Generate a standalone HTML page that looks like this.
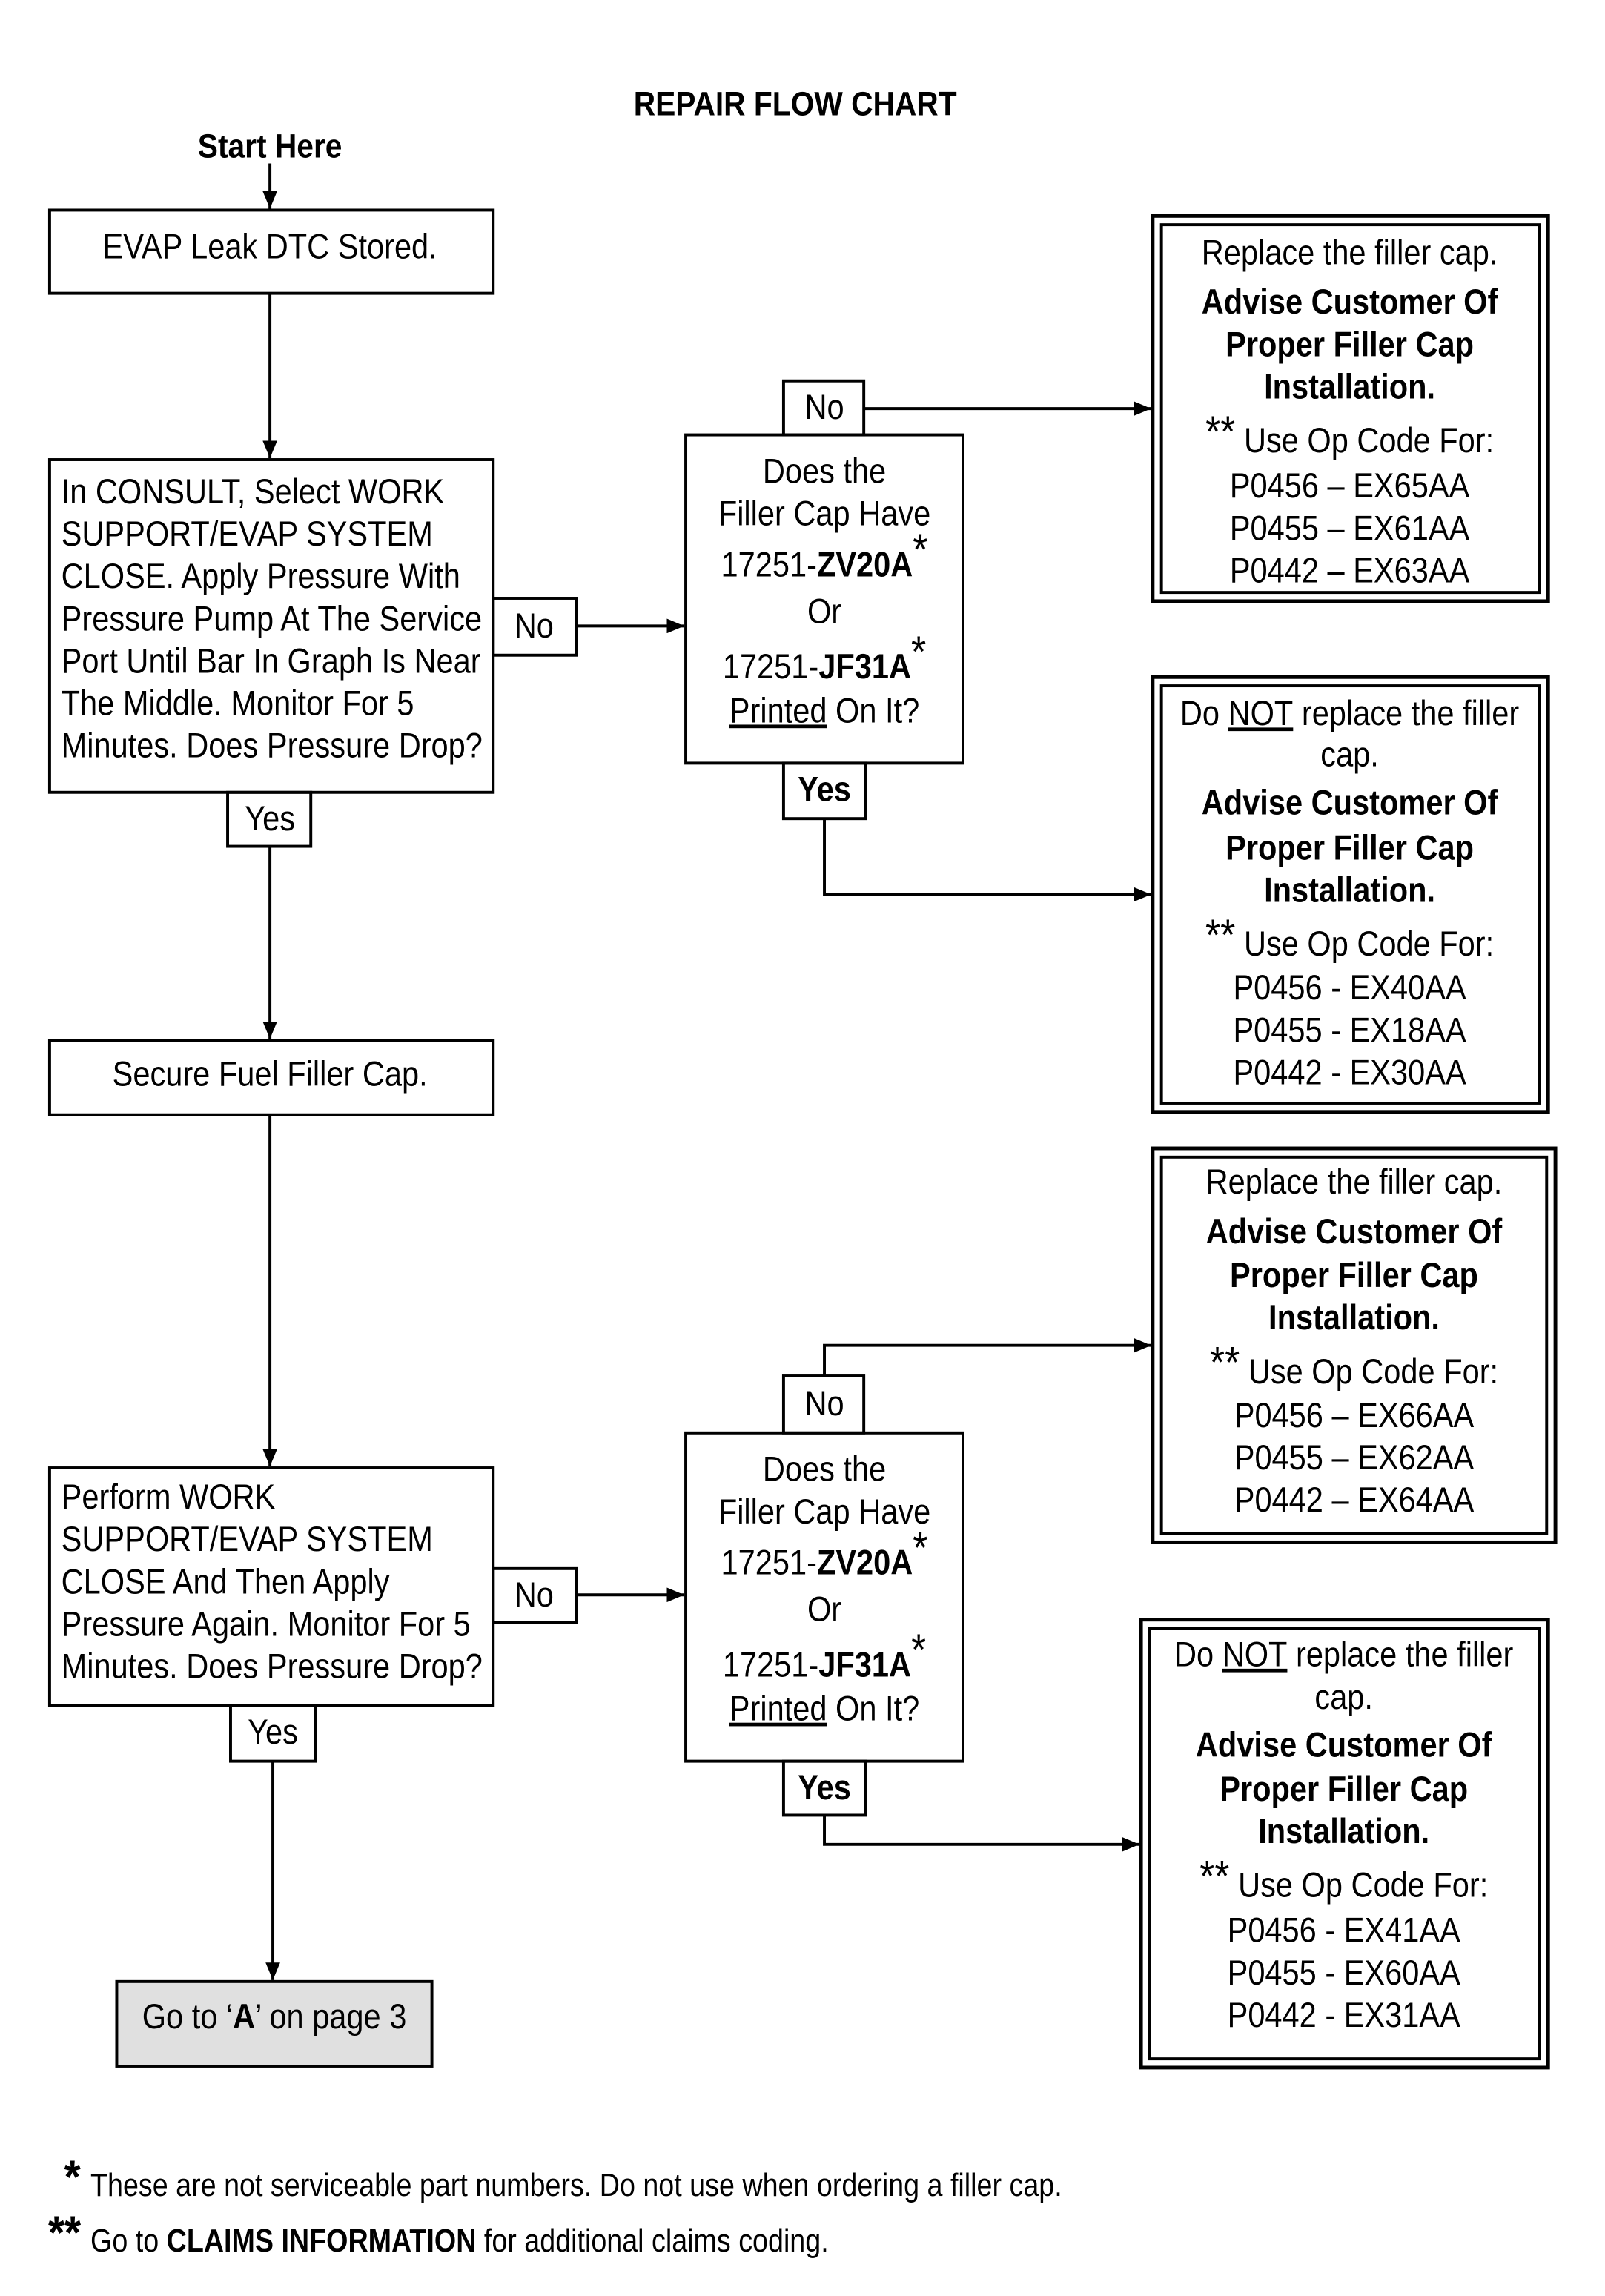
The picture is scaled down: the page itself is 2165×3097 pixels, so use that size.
<!DOCTYPE html>
<html><head><meta charset="utf-8"><style>
html,body{margin:0;padding:0;background:#fff;}
svg{display:block;}
text{font-family:"Liberation Sans Narrow","Liberation Sans",sans-serif;fill:#000;}
.c{text-anchor:middle;}
.b{font-weight:bold;}
</style></head><body>
<svg width="2165" height="3097" viewBox="0 0 1100 1573.5" xmlns="http://www.w3.org/2000/svg">
<defs>
<marker id="a" markerWidth="12" markerHeight="10" refX="12" refY="5" orient="auto" markerUnits="userSpaceOnUse">
<path d="M0,0 L12,5 L0,10 z" fill="#000"/></marker>
</defs>
<g font-size="24">
<g transform="matrix(0.9,0,0,1,545,79)"><text class="c b" font-size="23">REPAIR FLOW CHART</text></g>
<g transform="matrix(0.9,0,0,1,185,108)"><text class="c b" font-size="23">Start Here</text></g>
</g>
<g stroke="#000" stroke-width="2" fill="none">
<line x1="185" y1="112" x2="185" y2="143" marker-end="url(#a)"/>
<rect x="34" y="144" width="304" height="57" fill="#fff"/>
<line x1="185" y1="201" x2="185" y2="314" marker-end="url(#a)"/>
<rect x="34" y="315" width="304" height="228"/>
<rect x="338" y="410" width="57" height="39"/>
<line x1="395" y1="429" x2="469" y2="429" marker-end="url(#a)"/>
<rect x="470" y="298" width="190" height="225"/>
<rect x="537" y="261" width="55" height="37"/>
<line x1="592" y1="280" x2="789" y2="280" marker-end="url(#a)"/>
<rect x="537" y="523" width="56" height="38"/>
<polyline points="565,561 565,613 789,613" marker-end="url(#a)"/>
<rect x="790" y="148" width="271" height="264" stroke-width="2.5"/>
<rect x="796" y="154" width="259" height="252"/>
<rect x="790" y="464" width="271" height="298" stroke-width="2.5"/>
<rect x="796" y="470" width="259" height="286"/>
<rect x="156" y="543" width="57" height="37"/>
<line x1="185" y1="580" x2="185" y2="712" marker-end="url(#a)"/>
<rect x="34" y="713" width="304" height="51"/>
<line x1="185" y1="764" x2="185" y2="1005" marker-end="url(#a)"/>
<rect x="34" y="1006" width="304" height="163"/>
<rect x="338" y="1075" width="57" height="37"/>
<line x1="395" y1="1093" x2="469" y2="1093" marker-end="url(#a)"/>
<rect x="470" y="982" width="190" height="225"/>
<rect x="537" y="943" width="55" height="39"/>
<polyline points="565,943 565,922 789,922" marker-end="url(#a)"/>
<rect x="790" y="787" width="276" height="270" stroke-width="2.5"/>
<rect x="796" y="793" width="264" height="258"/>
<rect x="537" y="1207" width="56" height="37"/>
<polyline points="565,1244 565,1264 781,1264" marker-end="url(#a)"/>
<rect x="782" y="1110" width="279" height="307" stroke-width="2.5"/>
<rect x="788" y="1116" width="267" height="295"/>
<rect x="158" y="1169" width="58" height="38"/>
<line x1="187" y1="1207" x2="187" y2="1357" marker-end="url(#a)"/>
<rect x="80" y="1358" width="216" height="58" fill="#e0e0e0"/>
</g>
<g font-size="24">
<g transform="matrix(0.88,0,0,1,185,177)"><text class="c">EVAP Leak DTC Stored.</text></g>
<g transform="matrix(0.88,0,0,1,42,0)">
<text y="345">In CONSULT, Select WORK</text>
<text y="374">SUPPORT/EVAP SYSTEM</text>
<text y="403">CLOSE. Apply Pressure With</text>
<text y="432">Pressure Pump At The Service</text>
<text y="461">Port Until Bar In Graph Is Near</text>
<text y="490">The Middle. Monitor For 5</text>
<text y="519">Minutes. Does Pressure Drop?</text>
<text y="1034">Perform WORK</text>
<text y="1063">SUPPORT/EVAP SYSTEM</text>
<text y="1092">CLOSE And Then Apply</text>
<text y="1121">Pressure Again. Monitor For 5</text>
<text y="1150">Minutes. Does Pressure Drop?</text>
</g>
<g transform="matrix(0.88,0,0,1,366,437)"><text class="c">No</text></g>
<g transform="matrix(0.88,0,0,1,366,1101)"><text class="c">No</text></g>
<g transform="matrix(0.88,0,0,1,565,287)"><text class="c">No</text></g>
<g transform="matrix(0.88,0,0,1,565,970)"><text class="c">No</text></g>
<g transform="matrix(0.88,0,0,1,565,549)"><text class="c b">Yes</text></g>
<g transform="matrix(0.88,0,0,1,565,1233)"><text class="c b">Yes</text></g>
<g transform="matrix(0.88,0,0,1,185,569)"><text class="c">Yes</text></g>
<g transform="matrix(0.88,0,0,1,187,1195)"><text class="c">Yes</text></g>
<g transform="matrix(0.88,0,0,1,185,744)"><text class="c">Secure Fuel Filler Cap.</text></g>
<g transform="matrix(0.88,0,0,1,188,1390)"><text class="c">Go to ‘<tspan font-weight="bold">A</tspan>’ on page 3</text></g>
<g transform="matrix(0.88,0,0,1,565,0)">
<text class="c" y="331">Does the</text>
<text class="c" y="360">Filler Cap Have</text>
<text class="c" y="395">17251-<tspan font-weight="bold">ZV20A</tspan><tspan dy="-8" font-size="30">*</tspan></text>
<text class="c" y="427">Or</text>
<text class="c" y="465">17251-<tspan font-weight="bold">JF31A</tspan><tspan dy="-8" font-size="30">*</tspan></text>
<text class="c" y="495"><tspan text-decoration="underline">Printed</tspan> On It?</text>
<text class="c" y="1015">Does the</text>
<text class="c" y="1044">Filler Cap Have</text>
<text class="c" y="1079">17251-<tspan font-weight="bold">ZV20A</tspan><tspan dy="-8" font-size="30">*</tspan></text>
<text class="c" y="1111">Or</text>
<text class="c" y="1149">17251-<tspan font-weight="bold">JF31A</tspan><tspan dy="-8" font-size="30">*</tspan></text>
<text class="c" y="1179"><tspan text-decoration="underline">Printed</tspan> On It?</text>
</g>
<g transform="matrix(0.88,0,0,1,925,0)">
<text class="c" y="181">Replace the filler cap.</text>
<text class="c b" y="215">Advise Customer Of</text>
<text class="c b" y="244">Proper Filler Cap</text>
<text class="c b" y="273">Installation.</text>
<text class="c" y="310"><tspan font-size="30" dy="-4">**</tspan><tspan dy="4">  Use Op Code For:</tspan></text>
<text class="c" y="341">P0456 – EX65AA</text>
<text class="c" y="370">P0455 – EX61AA</text>
<text class="c" y="399">P0442 – EX63AA</text>
<text class="c" y="497">Do <tspan text-decoration="underline">NOT</tspan> replace the filler</text>
<text class="c" y="525">cap.</text>
<text class="c b" y="558">Advise Customer Of</text>
<text class="c b" y="589">Proper Filler Cap</text>
<text class="c b" y="618">Installation.</text>
<text class="c" y="655"><tspan font-size="30" dy="-4">**</tspan><tspan dy="4">  Use Op Code For:</tspan></text>
<text class="c" y="685">P0456 - EX40AA</text>
<text class="c" y="714">P0455 - EX18AA</text>
<text class="c" y="743">P0442 - EX30AA</text>
</g>
<g transform="matrix(0.88,0,0,1,928,0)">
<text class="c" y="818">Replace the filler cap.</text>
<text class="c b" y="852">Advise Customer Of</text>
<text class="c b" y="882">Proper Filler Cap</text>
<text class="c b" y="911">Installation.</text>
<text class="c" y="948"><tspan font-size="30" dy="-4">**</tspan><tspan dy="4">  Use Op Code For:</tspan></text>
<text class="c" y="978">P0456 – EX66AA</text>
<text class="c" y="1007">P0455 – EX62AA</text>
<text class="c" y="1036">P0442 – EX64AA</text>
</g>
<g transform="matrix(0.88,0,0,1,921,0)">
<text class="c" y="1142">Do <tspan text-decoration="underline">NOT</tspan> replace the filler</text>
<text class="c" y="1171">cap.</text>
<text class="c b" y="1204">Advise Customer Of</text>
<text class="c b" y="1234">Proper Filler Cap</text>
<text class="c b" y="1263">Installation.</text>
<text class="c" y="1300"><tspan font-size="30" dy="-4">**</tspan><tspan dy="4">  Use Op Code For:</tspan></text>
<text class="c" y="1331">P0456 - EX41AA</text>
<text class="c" y="1360">P0455 - EX60AA</text>
<text class="c" y="1389">P0442 - EX31AA</text>
</g>
<g transform="matrix(0.9,0,0,1,44,0)"><text y="1503" font-size="32" font-weight="bold">*</text></g>
<g transform="matrix(0.9,0,0,1,33,0)"><text y="1541" font-size="32" font-weight="bold">**</text></g>
<g transform="matrix(0.87,0,0,1,62,0)" font-size="22">
<text y="1505">These are not serviceable part numbers. Do not use when ordering a filler cap.</text>
<text y="1543">Go to <tspan font-weight="bold">CLAIMS INFORMATION</tspan> for additional claims coding.</text>
</g>
</g>
</svg>
</body></html>
